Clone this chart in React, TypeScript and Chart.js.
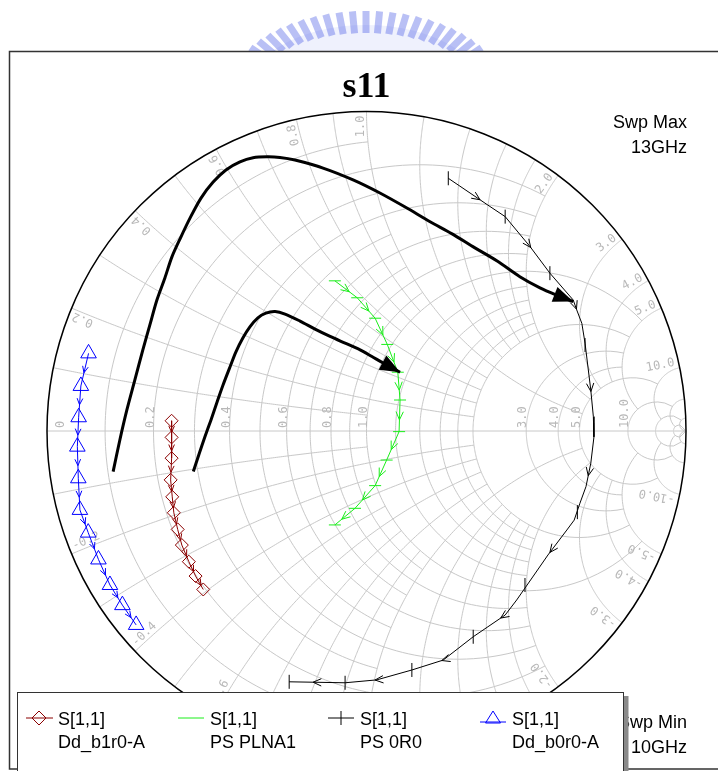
import React, { useEffect, useRef } from "react";
import { Chart, registerables } from "chart.js";

Chart.register(...registerables);

const W = 718;
const H = 771;

// ---------- data: S11 reflection coefficient (real, imaginary) ----------
const redRe = [-0.610, -0.610, -0.610, -0.613, -0.608, -0.603, -0.591, -0.578, -0.556, -0.535, -0.511];
const redIm = [0.032, -0.020, -0.085, -0.153, -0.206, -0.256, -0.308, -0.357, -0.409, -0.454, -0.496];

const greenRe = [-0.099, -0.029, 0.027, 0.065, 0.098, 0.105, 0.102, 0.063, 0.027, -0.036, -0.099];
const greenIm = [0.470, 0.417, 0.353, 0.271, 0.184, 0.097, -0.002, -0.091, -0.171, -0.242, -0.294];

const blackRe = [0.256, 0.380, 0.434, 0.512, 0.574, 0.647, 0.658, 0.674, 0.684, 0.702, 0.710, 0.712, 0.702, 0.687, 0.668, 0.650, 0.627, 0.568, 0.518, 0.470, 0.434, 0.334, 0.240, 0.142, 0.032, -0.067, -0.242];
const blackIm = [0.791, 0.707, 0.671, 0.577, 0.494, 0.410, 0.379, 0.337, 0.275, 0.128, 0.045, -0.018, -0.101, -0.174, -0.226, -0.279, -0.310, -0.388, -0.460, -0.529, -0.576, -0.644, -0.717, -0.748, -0.779, -0.788, -0.785];
const blackMarkRe = [0.256, 0.434, 0.574, 0.684, 0.711, 0.660, 0.496, 0.334, 0.142, -0.067, -0.242];
const blackMarkIm = [0.791, 0.671, 0.494, 0.269, 0.003, -0.254, -0.482, -0.644, -0.748, -0.788, -0.785];

const blueRe = [-0.870, -0.894, -0.901, -0.905, -0.902, -0.897, -0.871, -0.839, -0.803, -0.764, -0.721];
const blueIm = [0.243, 0.141, 0.043, -0.049, -0.148, -0.247, -0.318, -0.402, -0.482, -0.545, -0.607];

// hand-drawn annotation arrows (traced in the reflection-coefficient plane)
const arrowOuterRe = [-0.793, -0.772, -0.750, -0.725, -0.700, -0.678, -0.656, -0.631, -0.609, -0.581, -0.552, -0.518, -0.480, -0.440, -0.396, -0.355, -0.311, -0.271, -0.224, -0.136, -0.042, 0.042, 0.121, 0.199, 0.268, 0.333, 0.409, 0.480, 0.543, 0.593, 0.647];
const arrowOuterIm = [-0.127, -0.028, 0.066, 0.160, 0.254, 0.332, 0.410, 0.479, 0.545, 0.607, 0.667, 0.729, 0.779, 0.817, 0.842, 0.855, 0.858, 0.856, 0.848, 0.823, 0.786, 0.745, 0.701, 0.655, 0.617, 0.577, 0.532, 0.483, 0.448, 0.426, 0.405];
const arrowInnerRe = [-0.542, -0.524, -0.506, -0.487, -0.469, -0.449, -0.427, -0.409, -0.387, -0.365, -0.340, -0.315, -0.286, -0.255, -0.208, -0.161, -0.114, -0.067, -0.020, 0.017, 0.052, 0.105];
const arrowInnerIm = [-0.127, -0.072, -0.019, 0.034, 0.087, 0.144, 0.201, 0.247, 0.291, 0.326, 0.354, 0.369, 0.374, 0.366, 0.344, 0.319, 0.296, 0.275, 0.254, 0.233, 0.213, 0.184];

// ---------- grid definition ----------
const rGrid = [0.1, 0.2, 0.3, 0.4, 0.5, 0.6, 0.7, 0.8, 0.9, 1.0, 1.2, 1.4, 1.6, 1.8, 2, 3, 4, 5, 10, 20, 50];
const gridLimit = [1, 2, 1, 2, 1, 2, 1, 2, 1, 5, 2, 2, 2, 2, 5, 5, 5, 10, 20, 50, Infinity];
const rLabels = [0, 0.2, 0.4, 0.6, 0.8, 1.0, 3.0, 4.0, 5.0, 10.0];
const xLabels = [0.2, 0.4, 0.6, 0.8, 1.0, 2.0, 3.0, 4.0, 5.0, 10.0];

const titleText = "s11";
const paramName = "S[1,1]";
const seriesNames = ["Dd_b1r0-A", "PS PLNA1", "PS 0R0", "Dd_b0r0-A"];
const sweepMax = ["Swp Max", "13GHz"];
const sweepMin = ["Swp Min", "10GHz"];

const RED = "#8b0000";
const GREEN = "#1aee1a";
const BLUE = "#0000ff";
const BLACK = "#000000";
const GRID = "#c8c8c8";
const GRIDTXT = "#b8b8b8";

const pts = (re: number[], im: number[]) => re.map((v, i) => ({ x: v, y: im[i] }));

function gamma(r: number, x: number): [number, number] {
  const dr = r + 1;
  const den = dr * dr + x * x;
  return [((r - 1) * dr + x * x) / den, (2 * x) / den];
}

function chevron(ctx: CanvasRenderingContext2D, x: number, y: number, ang: number, len: number, spread: number) {
  ctx.beginPath();
  ctx.moveTo(x - len * Math.cos(ang - spread), y - len * Math.sin(ang - spread));
  ctx.lineTo(x, y);
  ctx.lineTo(x - len * Math.cos(ang + spread), y - len * Math.sin(ang + spread));
  ctx.stroke();
}

function chevronsAlong(ctx: CanvasRenderingContext2D, line: [number, number][], marks: [number, number][], len: number) {
  const cum = [0];
  for (let i = 1; i < line.length; i++) {
    cum.push(cum[i - 1] + Math.hypot(line[i][0] - line[i - 1][0], line[i][1] - line[i - 1][1]));
  }
  const proj = marks.map((m) => {
    let best = Infinity, bs = 0;
    for (let i = 0; i < line.length - 1; i++) {
      const [ax, ay] = line[i], [bx, by] = line[i + 1];
      const dx = bx - ax, dy = by - ay;
      const l2 = dx * dx + dy * dy || 1;
      let t = ((m[0] - ax) * dx + (m[1] - ay) * dy) / l2;
      t = Math.max(0, Math.min(1, t));
      const d = Math.hypot(ax + t * dx - m[0], ay + t * dy - m[1]);
      if (d < best) { best = d; bs = cum[i] + t * Math.sqrt(l2); }
    }
    return bs;
  });
  for (let k = 0; k < proj.length - 1; k++) {
    const sm = (proj[k] + proj[k + 1]) / 2 + len * 0.45;
    for (let i = 0; i < line.length - 1; i++) {
      if (sm >= cum[i] && sm <= cum[i + 1]) {
        const seg = cum[i + 1] - cum[i] || 1;
        const t = (sm - cum[i]) / seg;
        const [ax, ay] = line[i], [bx, by] = line[i + 1];
        chevron(ctx, ax + t * (bx - ax), ay + t * (by - ay), Math.atan2(by - ay, bx - ax), len, 0.42);
        break;
      }
    }
  }
}

function arrowHead(ctx: CanvasRenderingContext2D, from: [number, number], tip: [number, number], len: number, half: number) {
  const a = Math.atan2(tip[1] - from[1], tip[0] - from[0]);
  const bx = tip[0] - len * Math.cos(a), by = tip[1] - len * Math.sin(a);
  ctx.beginPath();
  ctx.moveTo(tip[0], tip[1]);
  ctx.lineTo(bx + half * Math.sin(a), by - half * Math.cos(a));
  ctx.lineTo(bx - half * Math.sin(a), by + half * Math.cos(a));
  ctx.closePath();
  ctx.fill();
}

const smithPlugin = {
  id: "smith",
  beforeDraw(chart: any) {
    const ctx: CanvasRenderingContext2D = chart.ctx;
    ctx.save();
    ctx.fillStyle = "#ffffff";
    ctx.fillRect(0, 0, W, H);
    // faint watermark logo peeking above the frame
    ctx.beginPath();
    ctx.rect(0, 0, W, 51);
    ctx.clip();
    ctx.fillStyle = "rgba(120,140,235,0.12)";
    ctx.beginPath();
    ctx.ellipse(366, 95, 120, 70, 0, 0, Math.PI * 2);
    ctx.fill();
    ctx.strokeStyle = "rgba(70,90,230,0.38)";
    ctx.lineWidth = 7;
    for (let i = 0; i <= 22; i++) {
      const a = Math.PI * (0.16 + 0.68 * (i / 22));
      const c = Math.cos(a), s = Math.sin(a);
      ctx.beginPath();
      ctx.moveTo(366 + 118 * c, 95 - 62 * s);
      ctx.lineTo(366 + 140 * c, 95 - 84 * s);
      ctx.stroke();
    }
    ctx.restore();
    // frame
    ctx.save();
    ctx.strokeStyle = "#333333";
    ctx.lineWidth = 1.5;
    ctx.strokeRect(9.5, 51.5, 740, 717.5);
    ctx.restore();
  },
  beforeDatasetsDraw(chart: any) {
    const ctx: CanvasRenderingContext2D = chart.ctx;
    const xs = chart.scales.x, ys = chart.scales.y;
    const P = (g: [number, number]): [number, number] => [xs.getPixelForValue(g[0]), ys.getPixelForValue(g[1])];
    const cx = xs.getPixelForValue(0), cy = ys.getPixelForValue(0);
    const R = (xs.getPixelForValue(1) - xs.getPixelForValue(-1)) / 2;
    ctx.save();
    ctx.strokeStyle = GRID;
    ctx.lineWidth = 1;
    const N = 160;
    rGrid.forEach((r, i) => {
      const lim = gridLimit[i];
      const U = lim === Infinity ? Math.PI / 2 - 1e-4 : Math.atan(lim);
      ctx.beginPath();
      for (let k = 0; k <= N; k++) {
        const u = -U + (2 * U * k) / N;
        const p = P(gamma(r, Math.tan(u)));
        if (k === 0) ctx.moveTo(p[0], p[1]); else ctx.lineTo(p[0], p[1]);
      }
      ctx.stroke();
    });
    rGrid.forEach((xv, i) => {
      const lim = gridLimit[i];
      const T = lim === Infinity ? 1 - 1e-4 : lim / (1 + lim);
      for (const sg of [1, -1]) {
        ctx.beginPath();
        for (let k = 0; k <= N; k++) {
          const t = (T * k) / N;
          const p = P(gamma(t / (1 - t), sg * xv));
          if (k === 0) ctx.moveTo(p[0], p[1]); else ctx.lineTo(p[0], p[1]);
        }
        ctx.stroke();
      }
    });
    // real axis
    ctx.beginPath();
    ctx.moveTo(cx - R, cy);
    ctx.lineTo(cx + R, cy);
    ctx.stroke();

    // labels
    ctx.fillStyle = GRIDTXT;
    ctx.font = "12px 'DejaVu Sans Mono'";
    ctx.textBaseline = "alphabetic";
    rLabels.forEach((r) => {
      let px = xs.getPixelForValue((r - 1) / (r + 1));
      if (r === 0) px += 17;
      ctx.save();
      ctx.translate(px, cy - 3);
      ctx.rotate(-Math.PI / 2);
      ctx.textAlign = "left";
      ctx.fillText(r === 0 ? "0" : r.toFixed(1), 0, 0);
      ctx.restore();
    });
    xLabels.forEach((xv) => {
      for (const sg of [1, -1]) {
        const g = gamma(0, sg * xv);
        const th = Math.atan2(g[1], g[0]);
        const ro = R - 4;
        ctx.save();
        ctx.translate(cx + ro * Math.cos(th), cy - ro * Math.sin(th));
        if (sg > 0) {
          ctx.rotate(-th);
          ctx.textAlign = "right";
          ctx.fillText(xv.toFixed(1), 0, -3);
        } else {
          ctx.rotate(-th + Math.PI);
          ctx.textAlign = "left";
          ctx.fillText("-" + xv.toFixed(1), 0, -3);
        }
        ctx.restore();
      }
    });
    // outer circle
    ctx.strokeStyle = "#000000";
    ctx.lineWidth = 1.5;
    ctx.beginPath();
    ctx.arc(cx, cy, R, 0, Math.PI * 2);
    ctx.stroke();
    ctx.restore();
  },
  afterDatasetsDraw(chart: any) {
    const ctx: CanvasRenderingContext2D = chart.ctx;
    const xs = chart.scales.x, ys = chart.scales.y;
    const toPx = (re: number[], im: number[]): [number, number][] =>
      re.map((v, i) => [xs.getPixelForValue(v), ys.getPixelForValue(im[i])] as [number, number]);
    ctx.save();
    ctx.lineWidth = 1;
    ctx.strokeStyle = BLACK;
    chevronsAlong(ctx, toPx(blackRe, blackIm), toPx(blackMarkRe, blackMarkIm), 9);
    ctx.strokeStyle = GREEN;
    const g = toPx(greenRe, greenIm);
    chevronsAlong(ctx, g, g, 9);
    ctx.strokeStyle = BLUE;
    const b = toPx(blueRe, blueIm);
    chevronsAlong(ctx, b, b, 7);
    ctx.strokeStyle = RED;
    const r = toPx(redRe, redIm);
    chevronsAlong(ctx, r, r, 7);
    // thick arrow heads
    ctx.fillStyle = BLACK;
    const ao = toPx(arrowOuterRe, arrowOuterIm);
    arrowHead(ctx, ao[ao.length - 2], ao[ao.length - 1], 20, 8);
    const ai = toPx(arrowInnerRe, arrowInnerIm);
    arrowHead(ctx, ai[ai.length - 2], ai[ai.length - 1], 20, 8);
    ctx.restore();
  },
  afterDraw(chart: any) {
    const ctx: CanvasRenderingContext2D = chart.ctx;
    const xs = chart.scales.x;
    ctx.save();
    // title
    ctx.fillStyle = "#000";
    ctx.font = "bold 36px 'Liberation Serif'";
    ctx.textAlign = "center";
    ctx.textBaseline = "alphabetic";
    ctx.fillText(titleText, xs.getPixelForValue(0), 97);
    // sweep texts
    ctx.font = "18px 'Liberation Sans'";
    ctx.textAlign = "right";
    ctx.fillText(sweepMax[0], 687, 128);
    ctx.fillText(sweepMax[1], 687, 153);
    ctx.fillText(sweepMin[0], 687, 728);
    ctx.fillText(sweepMin[1], 687, 753);
    // legend box
    ctx.fillStyle = "#8a8a8a";
    ctx.fillRect(623.5, 696, 5, 80);
    ctx.fillStyle = "#ffffff";
    ctx.fillRect(17.5, 692.5, 606, 90);
    ctx.strokeStyle = "#333";
    ctx.lineWidth = 1;
    ctx.strokeRect(17.5, 692.5, 606, 90);

    const symY = 718;
    const itemX = [39, 191, 341, 493];
    const textX = [58, 210, 360, 512];
    // item 1: diamond
    ctx.strokeStyle = RED;
    ctx.beginPath();
    ctx.moveTo(26, symY); ctx.lineTo(53, symY);
    ctx.stroke();
    ctx.beginPath();
    ctx.moveTo(itemX[0] - 7, symY); ctx.lineTo(itemX[0], symY - 7);
    ctx.lineTo(itemX[0] + 7, symY); ctx.lineTo(itemX[0], symY + 7);
    ctx.closePath();
    ctx.stroke();
    // item 2: green line
    ctx.strokeStyle = GREEN;
    ctx.beginPath();
    ctx.moveTo(178, symY); ctx.lineTo(204, symY);
    ctx.stroke();
    // item 3: plus
    ctx.strokeStyle = BLACK;
    ctx.beginPath();
    ctx.moveTo(328, symY); ctx.lineTo(354, symY);
    ctx.moveTo(itemX[2], symY - 7); ctx.lineTo(itemX[2], symY + 7);
    ctx.stroke();
    // item 4: triangle
    ctx.strokeStyle = BLUE;
    ctx.beginPath();
    ctx.moveTo(480, symY + 4); ctx.lineTo(506, symY + 4);
    ctx.stroke();
    ctx.beginPath();
    ctx.moveTo(itemX[3], symY - 7); ctx.lineTo(itemX[3] + 7.5, symY + 5);
    ctx.lineTo(itemX[3] - 7.5, symY + 5);
    ctx.closePath();
    ctx.stroke();

    ctx.fillStyle = "#000";
    ctx.font = "18px 'Liberation Sans'";
    ctx.textAlign = "left";
    seriesNames.forEach((n, i) => {
      ctx.fillText(paramName, textX[i], 725);
      ctx.fillText(n, textX[i], 748);
    });
    ctx.restore();
  },
};

export default function App() {
  const ref = useRef<HTMLCanvasElement>(null);
  useEffect(() => {
    document.body.style.margin = "0";
    const canvas = ref.current!;
    const chart = new Chart(canvas, {
      type: "scatter",
      data: {
        datasets: [
          {
            label: "arrowOuter", data: pts(arrowOuterRe, arrowOuterIm), showLine: true,
            borderColor: BLACK, borderWidth: 3, pointRadius: 0, tension: 0.3, clip: false,
          },
          {
            label: "arrowInner", data: pts(arrowInnerRe, arrowInnerIm), showLine: true,
            borderColor: BLACK, borderWidth: 3, pointRadius: 0, tension: 0.3, clip: false,
          },
          {
            label: seriesNames[0], data: pts(redRe, redIm), showLine: true,
            borderColor: RED, borderWidth: 1, pointStyle: "rectRot", pointRadius: 6.5,
            pointBorderColor: RED, pointBackgroundColor: "rgba(0,0,0,0)", pointBorderWidth: 1, clip: false,
          },
          {
            label: seriesNames[1], data: pts(greenRe, greenIm), showLine: true,
            borderColor: GREEN, borderWidth: 1, pointStyle: "line", pointRadius: 6, pointRotation: 0,
            pointBorderColor: GREEN, pointBorderWidth: 1, clip: false,
          },
          {
            label: seriesNames[2], data: pts(blackRe, blackIm), showLine: true,
            borderColor: BLACK, borderWidth: 1, pointRadius: 0, clip: false,
          },
          {
            label: seriesNames[2] + " markers", data: pts(blackMarkRe, blackMarkIm), showLine: false,
            pointStyle: "line", pointRadius: 7, pointRotation: 90,
            pointBorderColor: BLACK, pointBorderWidth: 1, clip: false,
          },
          {
            label: seriesNames[3], data: pts(blueRe, blueIm), showLine: true,
            borderColor: BLUE, borderWidth: 1, pointStyle: "triangle", pointRadius: 9,
            pointBorderColor: BLUE, pointBackgroundColor: "rgba(0,0,0,0)", pointBorderWidth: 1, clip: false,
          },
        ] as any,
      },
      options: {
        responsive: false,
        maintainAspectRatio: false,
        animation: false,
        devicePixelRatio: 1,
        events: [],
        layout: { padding: { left: 47, right: 32, top: 111.5, bottom: 20.5 } },
        scales: {
          x: { type: "linear", min: -1, max: 1, display: false },
          y: { type: "linear", min: -1, max: 1, display: false },
        },
        plugins: { legend: { display: false }, tooltip: { enabled: false }, title: { display: false } },
      } as any,
      plugins: [smithPlugin],
    });
    return () => chart.destroy();
  }, []);
  return (
    <div style={{ width: W, height: H }}>
      <canvas ref={ref} width={W} height={H} style={{ display: "block", width: W, height: H }} />
    </div>
  );
}
